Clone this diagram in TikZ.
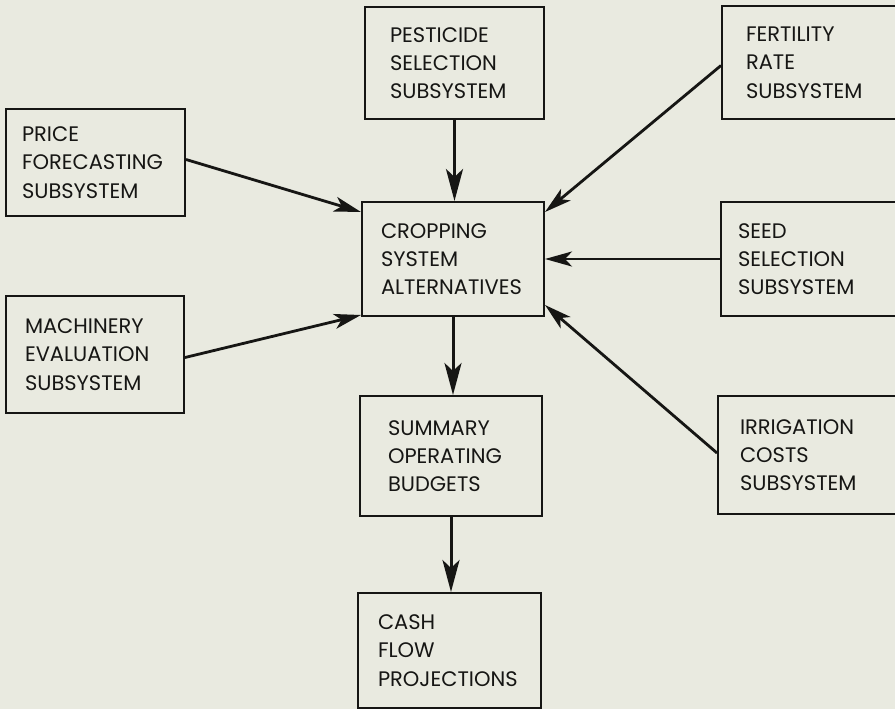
\documentclass[tikz,border=0pt]{standalone}
\usepackage{fontspec}
\setmainfont{Poppins}
\usetikzlibrary{arrows.meta}
\definecolor{bgc}{RGB}{233,234,224}
\definecolor{ink}{RGB}{22,22,20}
\begin{document}
\begin{tikzpicture}[x=1pt,y=-1pt,
  box/.style n args={3}{draw=ink, line width=2pt, rectangle, anchor=north west,
     minimum width=#1, minimum height=#2, inner xsep=#3, inner ysep=0pt,
     text width=#1-2*#3, align=left, text=ink,
     font=\fontsize{21}{28.3}\selectfont},
  arr/.style={draw=ink, line width=2.8pt, -{Stealth[length=27pt,width=15pt,inset=7pt]}},
  varr/.style={draw=ink, line width=3pt, -{Stealth[length=32pt,width=17pt,inset=8pt]}}]
\useasboundingbox (0,0) rectangle (895,709);
\fill[bgc] (0,0) rectangle (895,709);
\clip (0,0) rectangle (895,709);

\node[box={179pt}{112pt}{25pt}] (pest) at (364,6) {PESTICIDE\\SELECTION\\SUBSYSTEM};
\node[box={220pt}{113pt}{24pt}] (fert) at (721,5) {FERTILITY\\RATE\\SUBSYSTEM};
\node[box={179pt}{107pt}{16pt}] (price) at (5,108) {PRICE\\FORECASTING\\SUBSYSTEM};
\node[box={182pt}{114pt}{19pt}] (crop) at (361,201) {CROPPING\\SYSTEM\\ALTERNATIVES};
\node[box={220pt}{114pt}{17pt}] (seed) at (720,201) {SEED\\SELECTION\\SUBSYSTEM};
\node[box={178pt}{117pt}{19pt}] (mach) at (5,295) {MACHINERY\\EVALUATION\\SUBSYSTEM};
\node[box={182pt}{120pt}{28pt}] (summ) at (359,395) {SUMMARY\\OPERATING\\BUDGETS};
\node[box={220pt}{118pt}{22pt}] (irr) at (717,395) {IRRIGATION\\COSTS\\SUBSYSTEM};
\node[box={183pt}{115pt}{20pt}] (cash) at (357,592) {CASH\\FLOW\\PROJECTIONS};

\draw[varr] (pest.south) -- (pest.south |- crop.north);
\draw[arr] ([yshift=-3pt]fert.west) -- ([yshift=-11pt]crop.north east);
\draw[arr] (seed.west) -- (seed.west -| crop.east);
\draw[arr] ([yshift=2pt]irr.west) -- ([yshift=12pt]crop.south east);
\draw[arr] ([yshift=3pt]price.east) -- ([yshift=-11pt]crop.north west);
\draw[arr] ([yshift=-3pt]mach.east) -- ([yshift=2pt]crop.south west);
\draw[varr] (crop.south) -- (crop.south |- summ.north);
\draw[varr] (summ.south) -- (summ.south |- cash.north);
\end{tikzpicture}
\end{document}
